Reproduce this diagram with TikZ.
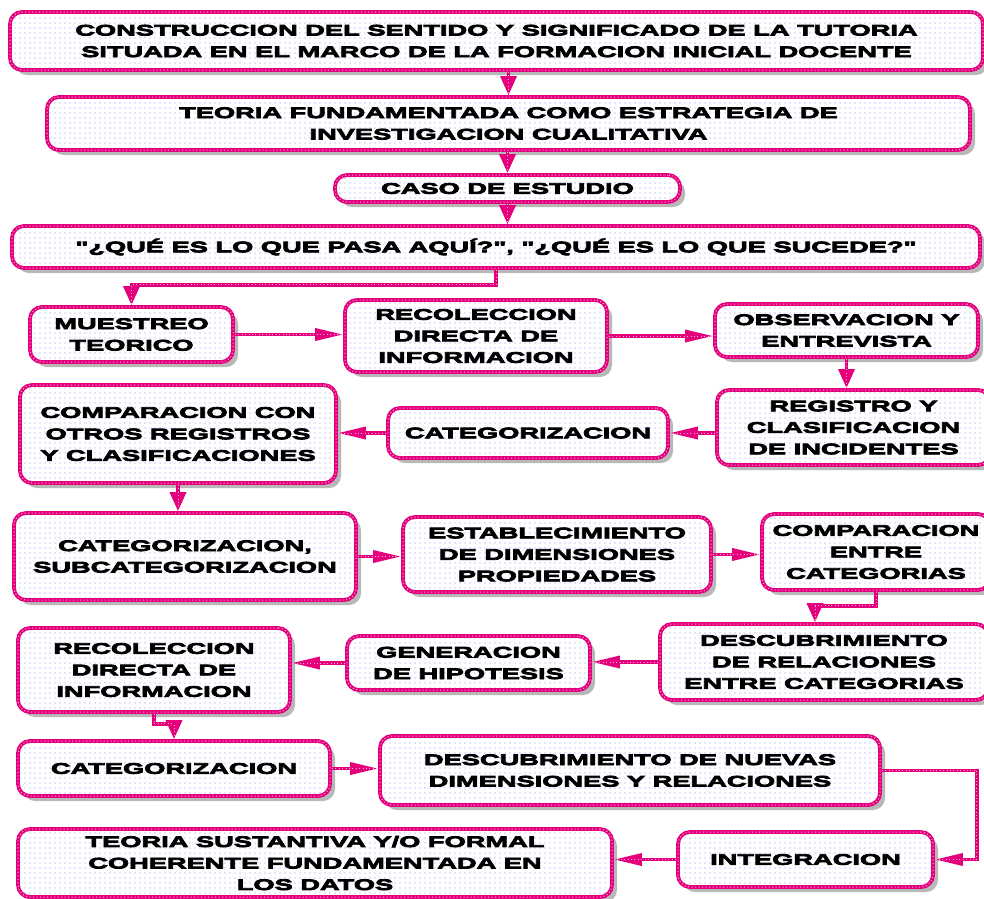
\documentclass[tikz,border=0pt]{standalone}
\usepackage{fontspec}
\newfontfamily\heavy[FakeStretch=1.78,FakeBold=5]{Liberation Sans Bold}
\usetikzlibrary{arrows.meta,shadows,patterns.meta,calc}
\definecolor{mag}{RGB}{228,0,124}
\definecolor{magdot}{RGB}{250,170,215}
\definecolor{dotblue}{RGB}{140,150,255}

% light blue dot grid used inside every box
\tikzdeclarepattern{
  name=bluedots,
  type=uncolored,
  bounding box={(-2.5pt,-2.5pt) and (2.5pt,2.5pt)},
  tile size={(5pt,5pt)},
  code={\pgfpathcircle{\pgfpointorigin}{0.7pt}\pgfusepath{fill}}
}

\tikzset{
  box/.style={draw=mag, line width=3.8pt, rounded corners=12pt,
    drop shadow={shadow xshift=5pt, shadow yshift=-5pt, fill=black!55},
    preaction={fill=white},
    pattern=bluedots, pattern color=dotblue,
    postaction={draw=magdot, line width=1pt, dash pattern=on 1pt off 2.5pt},
    inner sep=0pt, align=center,
    font=\heavy\fontsize{15.3pt}{21.5pt}\selectfont},
  conn/.style={draw=mag, line width=3.5pt,
    postaction={draw=magdot, arrows=-, line width=0.9pt, dash pattern=on 0.9pt off 2.5pt}},
  vconn/.style={conn, -{Triangle[length=19pt,width=16pt]}},
  hconn/.style={conn, -{Triangle[length=28pt,width=12pt]}},
}

\begin{document}
\begin{tikzpicture}[x=1pt,y=-1pt]
\useasboundingbox (0,0) rectangle (984,898);
\fill[white] (0,0) rectangle (984,898);

% boxes
\node[box, minimum width=973pt, minimum height=58pt] (title) at (496.5,41)
  {CONSTRUCCION DEL SENTIDO Y SIGNIFICADO DE LA TUTORIA\\SITUADA EN EL MARCO DE LA FORMACION INICIAL DOCENTE};
\node[box, minimum width=923pt, minimum height=53pt] (teoria) at (508.5,123.5)
  {TEORIA FUNDAMENTADA COMO ESTRATEGIA DE\\INVESTIGACION CUALITATIVA};
\node[box, minimum width=345pt, minimum height=27pt] (caso) at (507.5,188.5)
  {CASO DE ESTUDIO};
\node[box, minimum width=968pt, minimum height=42pt] (que) at (496,247)
  {"¿QUÉ ES LO QUE PASA AQUÍ?", "¿QUÉ ES LO QUE SUCEDE?"};
\node[box, minimum width=203pt, minimum height=55pt] (mue) at (131.5,334.5)
  {MUESTREO\\TEORICO};
\node[box, minimum width=262pt, minimum height=72pt] (rec1) at (476,336)
  {RECOLECCION\\DIRECTA DE\\INFORMACION};
\node[box, minimum width=263pt, minimum height=53pt] (obs) at (846.5,330.5)
  {OBSERVACION Y\\ENTREVISTA};
\node[box, minimum width=273pt, minimum height=75pt] (reg) at (853.5,427.5)
  {REGISTRO Y\\CLASIFICACION\\DE INCIDENTES};
\node[box, minimum width=280pt, minimum height=50pt] (cat1) at (528,433)
  {CATEGORIZACION};
\node[box, minimum width=316pt, minimum height=98pt] (compcon) at (178,434)
  {COMPARACION CON\\OTROS REGISTROS\\Y CLASIFICACIONES};
\node[box, minimum width=342pt, minimum height=87pt] (catsub) at (185,556.5)
  {CATEGORIZACION,\\SUBCATEGORIZACION};
\node[box, minimum width=308pt, minimum height=75pt] (est) at (557,554.5)
  {ESTABLECIMIENTO\\DE DIMENSIONES\\PROPIEDADES};
\node[box, minimum width=228pt, minimum height=76pt] (compentre) at (876,552)
  {COMPARACION\\ENTRE\\CATEGORIAS};
\node[box, minimum width=328pt, minimum height=76pt] (descrel) at (824,662)
  {DESCUBRIMIENTO\\DE RELACIONES\\ENTRE CATEGORIAS};
\node[box, minimum width=243pt, minimum height=54pt] (gen) at (468.5,663)
  {GENERACION\\DE HIPOTESIS};
\node[box, minimum width=272pt, minimum height=84pt] (rec2) at (154,670)
  {RECOLECCION\\DIRECTA DE\\INFORMACION};
\node[box, minimum width=312pt, minimum height=55pt] (cat2) at (174,768.5)
  {CATEGORIZACION};
\node[box, minimum width=500pt, minimum height=69pt] (descnue) at (630,770.5)
  {DESCUBRIMIENTO DE NUEVAS\\DIMENSIONES Y RELACIONES};
\node[box, minimum width=594pt, minimum height=68pt] (teosus) at (315,863)
  {TEORIA SUSTANTIVA Y/O FORMAL\\COHERENTE FUNDAMENTADA EN\\LOS DATOS};
\node[box, minimum width=255pt, minimum height=55pt] (integ) at (805.5,859.5)
  {INTEGRACION};

% connectors
\draw[vconn] (title.south -| teoria.north) -- (teoria.north);
\draw[vconn] (teoria.south -| caso.north) -- (caso.north);
\draw[vconn] (caso.south) -- (caso.south |- que.north);
\draw[vconn] (que.south) -- ++(0,15) -| (mue.north);
\draw[hconn] (mue.east) -- (mue.east -| rec1.west);
\draw[hconn] (rec1.east) -- (rec1.east -| obs.west);
\draw[vconn] (obs.south) -- (obs.south |- reg.north);
\draw[hconn] (cat1.east -| reg.west) -- (cat1.east);
\draw[hconn] (cat1.west) -- (cat1.west -| compcon.east);
\draw[vconn] (compcon.south) -- (compcon.south |- catsub.north);
\draw[hconn] (catsub.east) -- (catsub.east -| est.west);
\draw[hconn] (est.east) -- (est.east -| compentre.west);
\draw[vconn] (compentre.south) -- ++(0,14) -| ([xshift=-9pt]descrel.north);
\draw[hconn] (descrel.west) -- (descrel.west -| gen.east);
\draw[hconn] (gen.west) -- (gen.west -| rec2.east);
\draw[vconn] (rec2.south) -- ++(0,10) -| (cat2.north);
\draw[hconn] (cat2.east) -- (cat2.east -| descnue.west);
\draw[hconn] (descnue.east) -- ++(95,0) |- (integ.east);
\draw[hconn] (integ.west) -- (integ.west -| teosus.east);
\end{tikzpicture}
\end{document}
